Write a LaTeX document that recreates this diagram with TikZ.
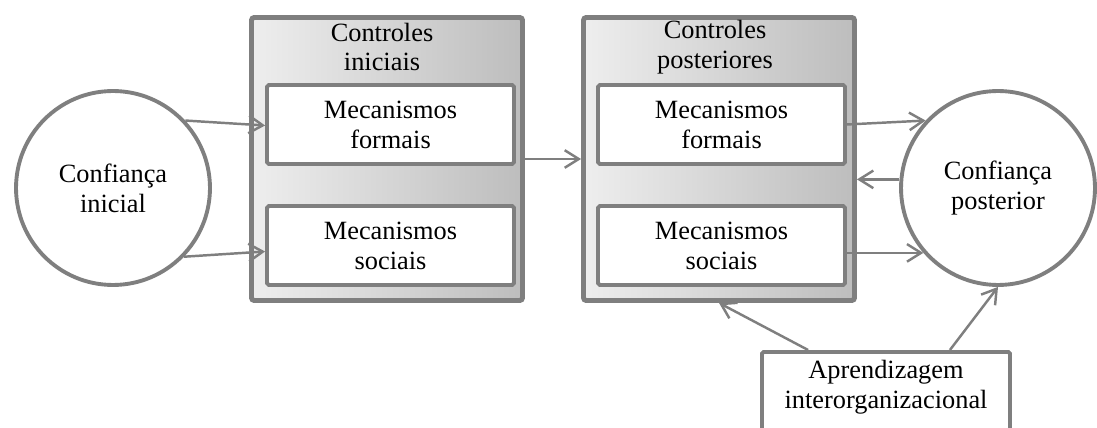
\documentclass[tikz,border=0pt]{standalone}
\usepackage{fontspec}
\setmainfont{Liberation Serif}
\usetikzlibrary{arrows.meta,calc}
\definecolor{linegray}{HTML}{7F7F7F}
\definecolor{shadelight}{HTML}{EEEEEE}
\definecolor{shadedark}{HTML}{BDBDBD}

\begin{document}
\begin{tikzpicture}[x=0.02cm,y=-0.02cm]
\tikzstyle{every node}+=[inner sep=0pt, align=center, font=\fontsize{15}{17}\selectfont]
\tikzstyle{ctlbox}=[draw=linegray, line width=2.8pt, left color=shadelight, right color=shadedark, minimum width=5.42cm, minimum height=5.66cm, rounded corners=1.5pt]
\tikzstyle{mechbox}=[draw=linegray, line width=2.2pt, fill=white, minimum width=4.94cm, minimum height=1.58cm, rounded corners=1pt]
\tikzstyle{trustcirc}=[draw=linegray, line width=2.2pt, fill=white, circle, minimum size=3.88cm]
\tikzstyle{link}=[draw=linegray, line width=1.4pt, -{Straight Barb[length=8pt,width=10pt]}]
\useasboundingbox (0,0) rectangle (1097,428);
\clip (0,0) rectangle (1097,428);
\node[ctlbox] (ctlini) at (387,159) {};
\node[ctlbox] (ctlpos) at (719,159) {};
\node (tini) at (382,47) {Controles\\iniciais};
\node (tpos) at (715,47) {Controles\\posteriores};
\node[mechbox] (fini) at (390.5,124.5) {Mecanismos\\formais};
\node[mechbox] (sini) at (390.5,245.5) {Mecanismos\\sociais};
\node[mechbox] (fpos) at (721.5,124.5) {Mecanismos\\formais};
\node[mechbox] (spos) at (721.5,245.5) {Mecanismos\\sociais};
\node[trustcirc] (cini) at (113,188) {Confiança\\inicial};
\node[trustcirc] (cpos) at (998,188) {Confiança\\posterior};
\node[mechbox, minimum width=4.96cm, minimum height=2.4cm, anchor=north] (apr) at (886,350) {};
\node (aprtext) at (886,387) {Aprendizagem\\interorganizacional};
\draw[link] (cini.43) -- ($(fini.west)+(0,1)$);
\draw[link] (cini.-44) -- ($(sini.west)+(0,6)$);
\draw[link] (ctlini.east) -- (ctlpos.west);
\draw[link] (fpos.east) -- (cpos.137);
\draw[link] (spos.east |- cpos.221) -- (cpos.221);
\draw[link] (cpos.175) -- (cpos.175 -| ctlpos.east);
\draw[link] ($(apr.north west)+(48,0)$) -- (ctlpos.south);
\draw[link] ($(apr.north east)+(-62,0)$) -- (cpos.south);
\end{tikzpicture}
\end{document}
